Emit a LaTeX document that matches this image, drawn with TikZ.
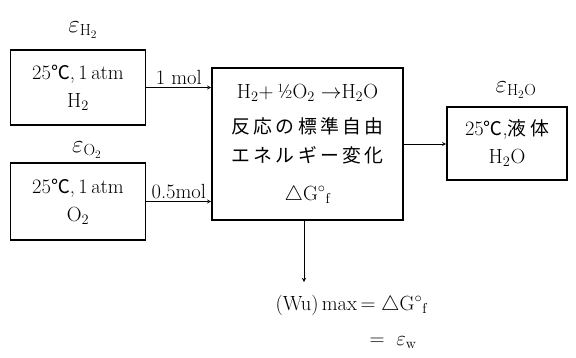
\documentclass[tikz,border=0pt]{standalone}
\usepackage{fontspec}
\newfontfamily\jpfont[LetterSpace=18, Scale=0.92]{Noto Sans CJK JP}
\newcommand{\jp}[1]{{\jpfont #1}}
\tikzset{
  statebox/.style={draw, line width=1.6pt, align=center, inner sep=0pt},
  flow/.style={->, line width=0.9pt},
  eps/.style={font=\fontsize{23}{26}\selectfont},
}

\begin{document}
\begin{tikzpicture}[>=stealth, x=1pt, y=-1pt, font=\fontsize{20.5}{24}\selectfont]
\useasboundingbox (0,0) rectangle (576,357);

\node[statebox, minimum width=135pt, minimum height=75pt] (h2) at (78,87.5)
     {25\jp{℃},\,1\,atm\\[4pt]H$_2$};
\node[statebox, minimum width=135pt, minimum height=77pt] (o2) at (78,201.5)
     {25\jp{℃},\,1\,atm\\[4pt]O$_2$};
\node[statebox, minimum width=191pt, minimum height=152pt] (rxn) at (307.5,144)
     {H$_2+$\,½O$_2\rightarrow$H$_2$O\\[11pt]
      \jp{反応の標準自由}\\[5pt]\jp{エネルギー変化}\\[14pt]
      $\triangle\mathrm{G}^{\circ}{}_{\mathrm{f}}$};
\node[statebox, minimum width=120pt, minimum height=73pt] (h2o) at (507,143.5)
     {25\jp{℃},\jp{液体}\\[4pt]H$_2$O};

\node[eps] (eh2)  at (83,30)  {$\varepsilon_{\mathrm{H_2}}$};
\node[eps] (eo2)  at (87,150) {$\varepsilon_{\mathrm{O_2}}$};
\node[eps] (eh2o) at (516,90) {$\varepsilon_{\mathrm{H_2O}}$};

\draw[flow] (h2.east) -- (rxn.west |- h2.east)
  node[pos=0.5, above, inner sep=2pt] (mh2) {1 mol};
\draw[flow] (o2.east) -- (rxn.west |- o2.east)
  node[pos=0.5, above, inner sep=2pt] (mo2) {0.5mol};
\draw[flow] (rxn.east) -- (h2o.west |- rxn.east);

\coordinate (wtip) at (304,282);
\draw[flow] (rxn.south -| wtip) -- (wtip);
\node[anchor=west] (wmax) at (272,305)
     {(Wu)\,max$\,=\triangle\mathrm{G}^{\circ}{}_{\mathrm{f}}$};
\node[anchor=west] (ew) at (366,343) {$=\ \varepsilon_{\mathrm w}$};

\end{tikzpicture}
\end{document}
